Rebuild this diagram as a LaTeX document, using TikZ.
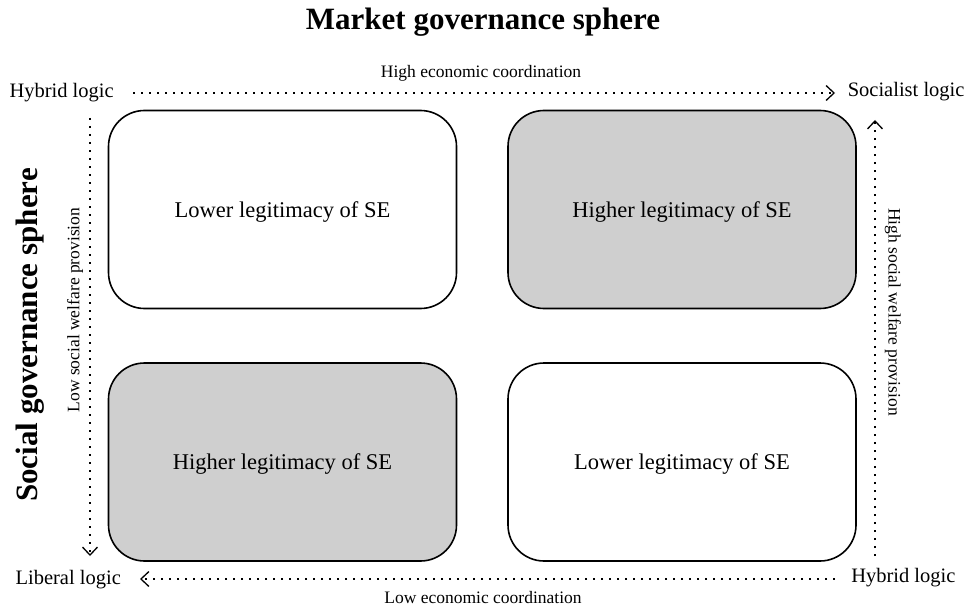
\documentclass[tikz,border=0pt]{standalone}
\usepackage{fontspec}
\setmainfont{Liberation Serif}
\usetikzlibrary{arrows.meta}

\tikzset{
  quad/.style={draw, line width=1.6pt, rounded corners=36pt, minimum width=348pt, minimum height=198pt, text depth=0pt, font=\fontsize{22.5}{26}\selectfont},
  shaded/.style={quad, fill=gray!38},
  logic/.style={font=\fontsize{20.5}{24}\selectfont},
  axis/.style={font=\fontsize{17.5}{20}\selectfont},
  sphere/.style={font=\bfseries\fontsize{31}{36}\selectfont},
  dotarrow/.style={line width=1.6pt, dash pattern=on 1.6pt off 6.4pt, -{Straight Barb[length=8pt, width=15pt, line width=1.3pt]}}
}

\begin{document}
\begin{tikzpicture}[x=1pt, y=-1pt]
		\useasboundingbox (0,0) rectangle (966,607);
		% title
		\node[sphere] (market) at (483,22) {Market governance sphere};
		\node[sphere, rotate=90] (social) at (30,335) {Social governance sphere};
		% four quadrants
		\node[quad] (tl) at (282.5,209.5) {Lower legitimacy of SE};
		\node[shaded] (tr) at (682,209.5) {Higher legitimacy of SE};
		\node[shaded] (bl) at (282.5,462) {Higher legitimacy of SE};
		\node[quad] (br) at (682,462) {Lower legitimacy of SE};
		% logics in the corners
		\node[logic, anchor=west] (hyb1) at (6,93) {Hybrid logic};
		\node[logic, anchor=east] (soc) at (968,92) {Socialist logic};
		\node[logic, anchor=west] (lib) at (12,580) {Liberal logic};
		\node[logic, anchor=east] (hyb2) at (959,578) {Hybrid logic};
		% axes
		\coordinate (lt) at (90,118);
		\coordinate (lb) at (90,556);
		\coordinate (rt) at (875,120);
		\coordinate (rb) at (875,556);
		\draw[dotarrow] (133,93) -- (835,93);
		\draw[dotarrow] (lt) -- (lb);
		\draw[dotarrow] (rb) -- (rt);
		\draw[dotarrow] (835,579) -- (140,579);
		\node[axis] (econhi) at (481,73) {High economic coordination};
		\node[axis] (econlo) at (483,598) {Low economic coordination};
		\node[axis, rotate=90] (welflo) at (75,310) {Low social welfare provision};
		\node[axis, rotate=-90] (welfhi) at (893,312) {High social welfare provision};
\end{tikzpicture}
\end{document}
